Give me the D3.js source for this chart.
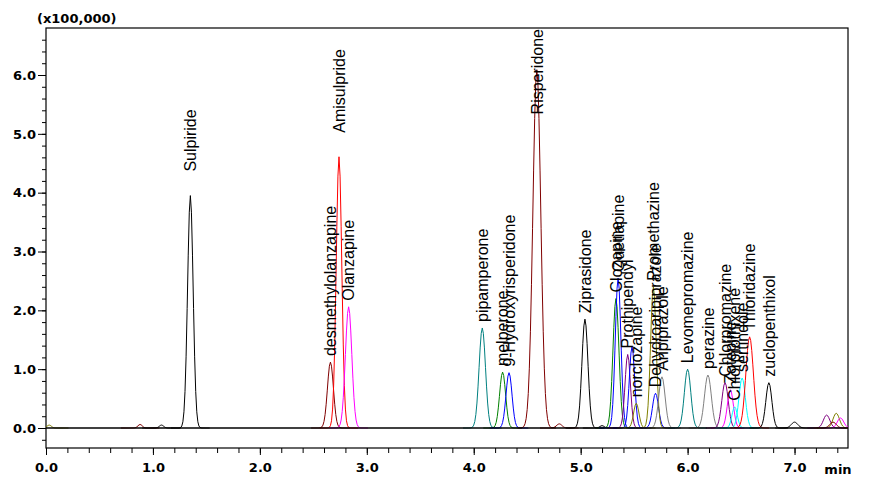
<!DOCTYPE html>
<html><head><meta charset="utf-8">
<script src="https://cdn.jsdelivr.net/npm/d3@7/dist/d3.min.js"></script>
<style>
html,body{margin:0;padding:0;background:#fff;}
svg{display:block;}
</style></head>
<body><svg id="c" width="885" height="477"></svg>
<script>
// ---- data ----
const compounds = ["", "", "Sulpiride", "", "desmethylolanzapine", "Amisulpride", "Olanzapine",
  "pipamperone", "melperone", "9-Hydroxyrisperidone", "Risperidone", "", "Ziprasidone", "",
  "Clozapine", "Quetiapine", "Prothipendyl", "", "norclozapine",
  "Dehydroaripiprazole", "Promethazine", "Aripiprazole", "Levomepromazine", "perazine",
  "Chlorpromazine", "Zotepine", "Chlorprothixene", "sertindole", "Thioridazine", "zuclopenthixol",
  "", "", "", "", ""];
const retentionTimes = [0.03, 0.88, 1.35, 1.08, 2.66, 2.74, 2.83,
  4.08, 4.27, 4.33, 4.59, 4.80, 5.04, 5.20,
  5.33, 5.35, 5.44, 5.48, 5.52,
  5.70, 5.68, 5.76, 6.00, 6.19,
  6.35, 6.40, 6.44, 6.51, 6.58, 6.76,
  7.00, 7.30, 7.39, 7.43, 7.36];
const peakHeights = [0.05, 0.06, 3.95, 0.05, 1.12, 4.61, 2.06,
  1.70, 0.95, 0.94, 6.09, 0.07, 1.85, 0.04,
  2.20, 2.55, 1.25, 1.38, 0.42,
  0.59, 2.40, 0.87, 1.00, 0.90,
  0.77, 0.65, 0.36, 0.85, 1.55, 0.77,
  0.10, 0.22, 0.25, 0.17, 0.10];
const peakWidths = [0.02, 0.02, 0.026, 0.02, 0.028, 0.026, 0.03,
  0.03, 0.028, 0.028, 0.037, 0.025, 0.028, 0.02,
  0.028, 0.026, 0.025, 0.025, 0.025,
  0.028, 0.026, 0.03, 0.03, 0.032,
  0.03, 0.028, 0.025, 0.03, 0.035, 0.028,
  0.03, 0.03, 0.03, 0.03, 0.03];
const traceColors = ["#808000", "#800000", "#000000", "#000000", "#800000", "#ff0000", "#ff00ff",
  "#008080", "#008000", "#0000ff", "#800000", "#800000", "#000000", "#000000",
  "#008000", "#0000ff", "#800080", "#0000ff", "#808000",
  "#0000ff", "#808000", "#808080", "#008080", "#808080",
  "#800080", "#ff00ff", "#00ffff", "#00ffff", "#ff0000", "#000000",
  "#000000", "#800080", "#808000", "#ff00ff", "#800000"];
const xTicks = [0, 1, 2, 3, 4, 5, 6, 7];
const yTicks = [0, 1, 2, 3, 4, 5, 6];
const xUnit = "min";
const yUnit = "(x100,000)";

// ---- layout ----
const L = 46, R = 848, T = 28, B = 448;
const svg = d3.select("#c");
const x = d3.scaleLinear().domain([0, 7.5]).range([L, R]);
const y = d3.scaleLinear().domain([0, 6]).range([428, 75]);
const yMax = y.invert(T);

const tickFont = "bold 13px 'DejaVu Sans', sans-serif";

// minor ticks
const xMinor = d3.range(0, 7.5 + 1e-9, 0.2).map(v => +v.toFixed(2));
svg.append("g").attr("transform", `translate(0,${B})`)
  .call(d3.axisBottom(x).tickValues(xMinor).tickSize(5).tickFormat(""))
  .call(g => g.select(".domain").remove());
const yMinor = d3.range(-0.2, yMax, 0.2).map(v => +v.toFixed(2));
svg.append("g").attr("transform", `translate(${L},0)`)
  .call(d3.axisLeft(y).tickValues(yMinor).tickSize(4).tickFormat(""))
  .call(g => g.select(".domain").remove());

// major ticks + labels
const gx = svg.append("g").attr("transform", `translate(0,${B})`)
  .call(d3.axisBottom(x).tickValues(xTicks).tickSize(7).tickPadding(8).tickFormat(d3.format(".1f")))
  .call(g => g.select(".domain").remove());
gx.selectAll("text").style("font", tickFont).attr("fill", "#000");
const gy = svg.append("g").attr("transform", `translate(${L},0)`)
  .call(d3.axisLeft(y).tickValues(yTicks).tickSize(8).tickPadding(2).tickFormat(d3.format(".1f")))
  .call(g => g.select(".domain").remove());
gy.selectAll("text").style("font", tickFont).attr("fill", "#000");
svg.selectAll(".tick line").attr("stroke", "#000").attr("stroke-width", 1);

svg.append("text").attr("x", 838).attr("y", 474).attr("text-anchor", "middle")
  .style("font", tickFont).text(xUnit);
svg.append("text").attr("x", 37).attr("y", 23)
  .style("font", tickFont).text(yUnit);

// frame
svg.append("rect").attr("x", L).attr("y", T).attr("width", R - L).attr("height", B - T)
  .attr("fill", "none").attr("stroke", "#000").attr("stroke-width", 1.2);

// traces
svg.append("clipPath").attr("id", "pc").append("rect")
  .attr("x", L).attr("y", T).attr("width", R - L).attr("height", B - T);
const plot = svg.append("g").attr("clip-path", "url(#pc)");
const line = d3.line().x(d => x(d[0])).y(d => y(d[1]));
const idx = d3.range(compounds.length);
idx.forEach(i => {
  const t0 = retentionTimes[i], h = peakHeights[i], w = peakWidths[i];
  const pts = [];
  for (let k = -18; k <= 18; k++) {
    const t = t0 + k * 0.01;
    const z = (t - t0) / w;
    pts.push([t, h * Math.exp(-0.5 * z * z)]);
  }
  plot.append("path").attr("d", line(pts)).attr("fill", "none")
    .attr("stroke", traceColors[i]).attr("stroke-width", 1);
});
// baseline
plot.append("line").attr("x1", L).attr("x2", R).attr("y1", y(0)).attr("y2", y(0))
  .attr("stroke", "#000").attr("stroke-width", 1.6);

// peak labels (tall peaks get a larger gap, as in the reference)
const lab = svg.append("g");
idx.filter(i => compounds[i]).forEach(i => {
  const px = x(retentionTimes[i]);
  const gap = peakHeights[i] > 3.5 ? 24 : 6;
  let sy = y(peakHeights[i]) - gap;
  const tx = lab.append("text")
    .style("font", "16px 'Liberation Sans', Arial, sans-serif")
    .attr("fill", "#000").attr("dy", "0.36em").text(compounds[i]);
  const len = tx.node().getComputedTextLength();
  if (sy - len < T + 1) sy = T + 1 + len;
  tx.attr("transform", `translate(${px},${sy}) rotate(-90)`);
});
</script>
</body></html>
